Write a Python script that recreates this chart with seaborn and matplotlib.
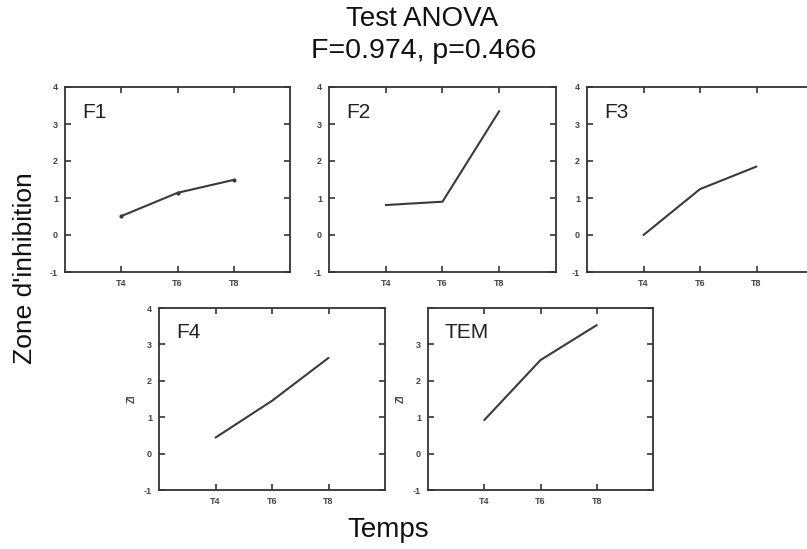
import matplotlib
matplotlib.use('Agg')
import matplotlib.pyplot as plt
import seaborn as sns
import pandas as pd

# ---- data ----
temps = ["T4", "T6", "T8"]
panels = ["F1", "F2", "F3", "F4", "TEM"]
f1 = [0.51, 1.14, 1.49]
f2 = [0.81, 0.90, 3.35]
f3 = [0.00, 1.24, 1.85]
f4 = [0.44, 1.45, 2.63]
tem = [0.92, 2.57, 3.53]
y_ticks = [-1, 0, 1, 2, 3, 4]
title_line1 = "Test ANOVA"
title_line2 = "F=0.974, p=0.466"
ylabel_main = "Zone d'inhibition"
xlabel_main = "Temps"
ylabel_small = "ZI"

series = {"F1": f1, "F2": f2, "F3": f3, "F4": f4, "TEM": tem}
rows = []
for p in panels:
    for i, (t, v) in enumerate(zip(temps, series[p])):
        rows.append({"panel": p, "temps": t, "pos": i + 1, "zi": v})
df = pd.DataFrame(rows)

sns.set_style("white")
plt.rcParams['font.family'] = ['Liberation Sans', 'DejaVu Sans']

W, H = 807, 549
fig = plt.figure(figsize=(W / 100, H / 100), dpi=100)

# axes boxes in pixels: left, right, top, bottom
boxes = {
    "F1": (65, 290, 87, 272),
    "F2": (329, 556, 87, 272),
    "F3": (587, 813, 87, 272),
    "F4": (159, 385, 308, 490),
    "TEM": (428, 653, 308, 490),
}

dark = "#333333"
for p in panels:
    l, r, t, b = boxes[p]
    ax = fig.add_axes([l / W, 1 - b / H, (r - l) / W, (b - t) / H])
    sub = df[df.panel == p]
    sns.lineplot(data=sub, x="pos", y="zi", ax=ax, color="#3a3a3a", lw=1.5,
                 marker="o" if p == "F1" else None, markersize=3,
                 markeredgewidth=0, legend=False)
    ax.set_xlim(0, 4)
    ax.set_ylim(-1, 4)
    ax.set_xticks([1, 2, 3])
    ax.set_xticklabels(temps)
    ax.set_yticks(y_ticks)
    labels = [str(v) for v in y_ticks]
    if p == "TEM":
        labels[-1] = ""
    ax.set_yticklabels(labels)
    ax.tick_params(direction="in", length=4, width=1.2, color=dark,
                   top=True, right=True, bottom=True, left=True,
                   labelsize=6.5, labelcolor="#444444", pad=5)
    for lab in ax.get_xticklabels() + ax.get_yticklabels():
        lab.set_fontweight("bold")
    for s in ax.spines.values():
        s.set_color(dark)
        s.set_linewidth(1.3)
        s.set_visible(True)
    ax.set_xlabel("")
    if p in ("F4", "TEM"):
        ax.set_ylabel(ylabel_small, fontsize=7, color="#444444", labelpad=5,
                      fontweight="bold")
    else:
        ax.set_ylabel("")
    ax.text(0.075, 0.915, p, transform=ax.transAxes, fontsize=15,
            color="#222222", va="top", ha="left")

fig.text(422 / W, 1 - 19 / H, title_line1, fontsize=20, ha="center",
         va="center", color="#111111")
fig.text(424 / W, 1 - 51 / H, title_line2, fontsize=20.5, ha="center",
         va="center", color="#111111")
fig.text(25 / W, 1 - 268 / H, ylabel_main, fontsize=19, rotation=90,
         ha="center", va="center", color="#111111")
fig.text(388 / W, 1 - 530 / H, xlabel_main, fontsize=20, ha="center",
         va="center", color="#111111")

fig.savefig("out.png", dpi=100)
